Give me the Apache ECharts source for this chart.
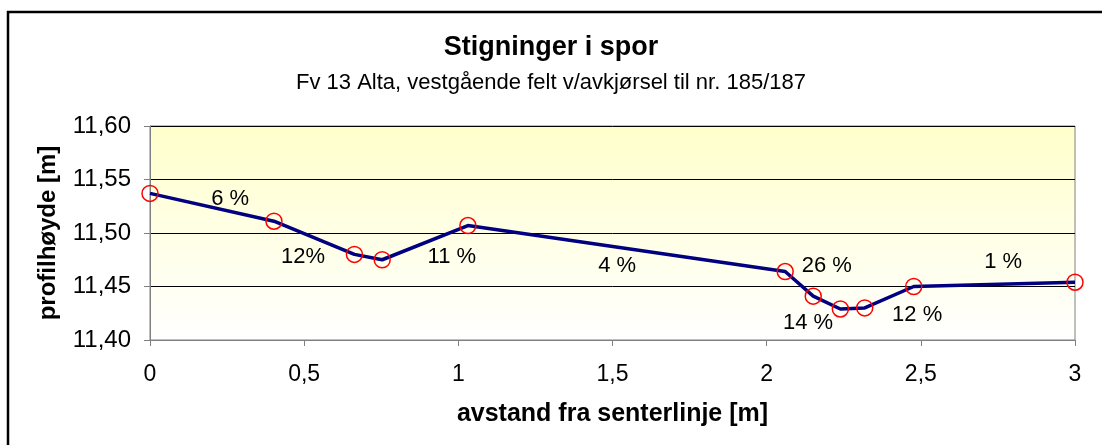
<!DOCTYPE html>
<html>
<head>
<meta charset="utf-8">
<script src="https://cdn.jsdelivr.net/npm/echarts@6/dist/echarts.min.js"></script>
<style>
html,body{margin:0;padding:0;background:#fff;}
#chart{width:1102px;height:445px;}
</style>
</head>
<body>
<div id="chart"></div>
<script>
// distance from centre line [m]
var distances = [0, 0.402, 0.663, 0.753, 1.031, 2.060, 2.151, 2.239, 2.318, 2.477, 3.0];
// profile height [m]
var heights = [11.537, 11.511, 11.480, 11.475, 11.507, 11.464, 11.441, 11.429, 11.430, 11.450, 11.454];
// slope annotations (text, x, y in data units)
var slopeTexts = ['6 %', '12%', '11 %', '4 %', '26 %', '1 %', '14 %', '12 %'];
var slopeX = [0.26, 0.496, 0.979, 1.515, 2.195, 2.767, 2.134, 2.488];
var slopeY = [11.532, 11.478, 11.478, 11.469, 11.469, 11.473, 11.416, 11.423];

var titleText = 'Stigninger i spor';
var subtitleText = 'Fv 13 Alta, vestgående felt v/avkjørsel til nr. 185/187';
var xName = 'avstand fra senterlinje [m]';
var yName = 'profilhøyde [m]';

var FONT = '"Liberation Sans", Arial, sans-serif';

var lineData = distances.map(function (d, i) { return [d, heights[i]]; });
var labelData = slopeTexts.map(function (t, i) { return { value: [slopeX[i], slopeY[i]], name: t }; });

var chart = echarts.init(document.getElementById('chart'));
chart.setOption({
  backgroundColor: '#ffffff',
  animation: false,
  textStyle: { fontFamily: FONT },
  graphic: [{
    type: 'rect',
    z: 100,
    silent: true,
    shape: { x: 8, y: 12, width: 1200, height: 600 },
    style: { fill: 'none', stroke: '#000', lineWidth: 2.5 }
  }],
  title: [{
    text: titleText,
    left: 'center',
    top: 29,
    textStyle: { fontFamily: FONT, fontSize: 27, fontWeight: 'bold', color: '#000' }
  }, {
    text: subtitleText,
    left: 'center',
    top: 67,
    textStyle: { fontFamily: FONT, fontSize: 22, fontWeight: 'normal', color: '#000' }
  }],
  grid: {
    left: 150, right: 27, top: 126, bottom: 105,
    show: true,
    borderColor: '#808080',
    borderWidth: 1,
    backgroundColor: new echarts.graphic.LinearGradient(0, 0, 0, 1, [
      { offset: 0, color: '#FFFFCC' },
      { offset: 1, color: '#FFFFFF' }
    ])
  },
  xAxis: {
    type: 'value',
    min: 0, max: 3, interval: 0.5,
    name: xName,
    nameLocation: 'middle',
    nameGap: 62,
    nameMoveOverlap: false,
    nameTextStyle: { fontFamily: FONT, fontSize: 25, fontWeight: 'bold', color: '#000' },
    axisLine: { show: true, lineStyle: { color: '#808080', width: 1 } },
    axisTick: { show: true, length: 6, lineStyle: { color: '#808080' } },
    axisLabel: {
      margin: 23,
      fontFamily: FONT, fontSize: 23, color: '#000',
      formatter: function (v) { return String(v).replace('.', ','); }
    },
    splitLine: { show: false }
  },
  yAxis: {
    type: 'value',
    min: 11.40, max: 11.60, interval: 0.05,
    name: yName,
    nameLocation: 'middle',
    nameGap: 90,
    nameTextStyle: { fontFamily: FONT, fontSize: 24, fontWeight: 'bold', color: '#000' },
    axisLine: { show: true, lineStyle: { color: '#808080', width: 1 } },
    axisTick: { show: true, length: 6, lineStyle: { color: '#808080' } },
    axisLabel: {
      margin: 19,
      fontFamily: FONT, fontSize: 24, color: '#000',
      formatter: function (v) { return v.toFixed(2).replace('.', ','); }
    },
    splitLine: { show: true, lineStyle: { color: '#000', width: 1 } }
  },
  series: [{
    type: 'line',
    data: lineData,
    lineStyle: { color: '#000080', width: 3.5 },
    symbol: 'circle',
    symbolSize: 16,
    itemStyle: { color: 'rgba(0,0,0,0)', borderColor: '#FF0000', borderWidth: 1.5 },
    z: 3
  }, {
    type: 'scatter',
    data: labelData,
    symbolSize: 1,
    itemStyle: { color: 'rgba(0,0,0,0)', opacity: 1 },
    label: {
      show: true,
      position: 'inside',
      formatter: function (p) { return p.name; },
      fontFamily: FONT, fontSize: 22, color: '#000', textBorderWidth: 0
    },
    z: 4
  }]
});
</script>
</body>
</html>
